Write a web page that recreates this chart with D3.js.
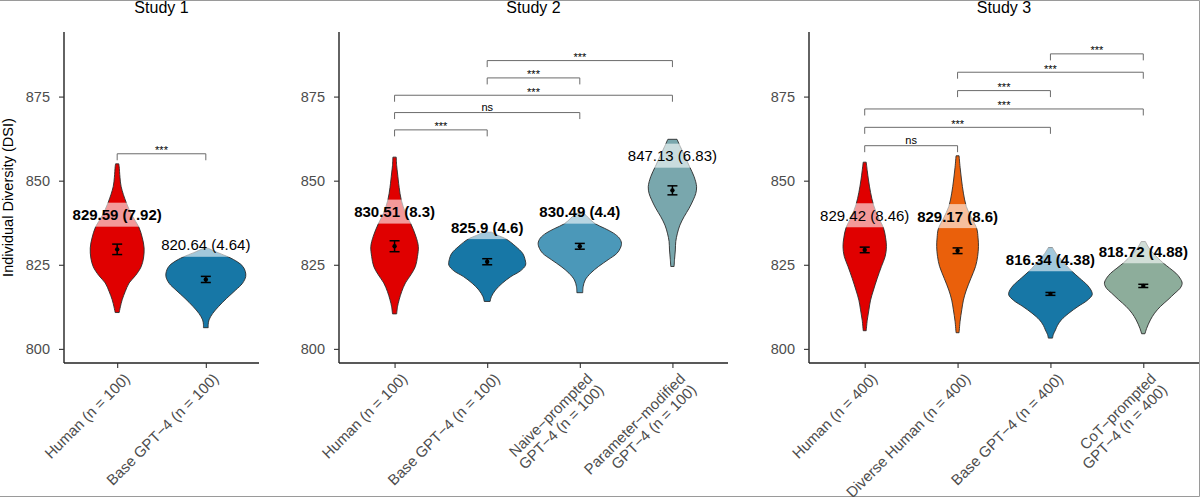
<!DOCTYPE html>
<html lang="en">
<head>
<meta charset="UTF-8">
<title>Individual Diversity</title>
<style>
  body { margin: 0; background: #fff; }
  svg text { font-family: "Liberation Sans", Arial, sans-serif; }
</style>
</head>
<body>
<svg width="1200" height="497" id="svg"></svg>
<script src="https://d3js.org/d3.v7.min.js"></script>
<script>
// ---- data ----
const studyTitles = ["Study 1", "Study 2", "Study 3"];

const groups1 = ["Human (n = 100)", "Base GPT−4 (n = 100)"];
const groups2 = ["Human (n = 100)", "Base GPT−4 (n = 100)", "Naive−prompted\nGPT−4 (n = 100)", "Parameter−modified\nGPT−4 (n = 100)"];
const groups3 = ["Human (n = 400)", "Diverse Human (n = 400)", "Base GPT−4 (n = 400)", "CoT−prompted\nGPT−4 (n = 400)"];

const means1 = [829.59, 820.64];
const means2 = [830.51, 825.9, 830.49, 847.13];
const means3 = [829.42, 829.17, 816.34, 818.72];

const sds1 = [7.92, 4.64];
const sds2 = [8.3, 4.6, 4.4, 6.83];
const sds3 = [8.46, 8.6, 4.38, 4.88];

const nObs1 = [100, 100];
const nObs2 = [100, 100, 100, 100];
const nObs3 = [400, 400, 400, 400];

// violin outlines: [DSI, relative density], read top to bottom
const violins1 = [
  [[855.0, 0.04], [854.2, 0.05], [851, 0.07], [848.2, 0.10], [843.4, 0.23], [839.5, 0.38], [836.3, 0.54], [833, 0.63], [830.0, 0.675], [827, 0.66], [824.4, 0.60], [821.8, 0.46], [819.6, 0.30], [817, 0.2], [814.6, 0.125], [812.5, 0.08], [810.8, 0.05]],
  [[829.9, 0.06], [828.6, 0.3], [827.3, 0.57], [825.8, 0.8], [824.5, 0.93], [823, 0.99], [821.5, 1.0], [819.5, 0.92], [817.5, 0.75], [815, 0.52], [812.6, 0.32], [810.5, 0.17], [808.6, 0.08], [807.3, 0.06], [806.3, 0.06]]
];
const violins2 = [
  [[857.0, 0.04], [854.5, 0.05], [852.3, 0.07], [848, 0.11], [844.3, 0.16], [840.5, 0.26], [837.2, 0.39], [833.5, 0.51], [830.4, 0.57], [827.5, 0.55], [824.5, 0.5], [822, 0.39], [819.6, 0.26], [817, 0.17], [814.6, 0.11], [812.5, 0.07], [810.4, 0.05]],
  [[834.7, 0.1], [833.7, 0.26], [832.7, 0.45], [830.5, 0.68], [828.4, 0.85], [826.5, 0.91], [824.9, 0.92], [823.2, 0.8], [821.5, 0.57], [819.5, 0.36], [817.5, 0.2], [815.5, 0.1], [814.1, 0.07]],
  [[840.3, 0.1], [838.8, 0.22], [837.2, 0.37], [835.8, 0.6], [834.4, 0.81], [832.9, 0.95], [831.4, 1.0], [829.9, 0.97], [828.4, 0.89], [826.5, 0.68], [824.5, 0.45], [822.5, 0.26], [820.5, 0.13], [818.5, 0.08], [816.7, 0.07]],
  [[862.3, 0.11], [860.1, 0.19], [857.2, 0.3], [854.2, 0.41], [851.2, 0.52], [848.2, 0.58], [846.2, 0.56], [844.3, 0.5], [841.8, 0.4], [839.3, 0.28], [836.8, 0.18], [834.4, 0.12], [831.9, 0.08], [829.4, 0.07], [826.5, 0.05], [824.5, 0.04]]
];
const violins3 = [
  [[855.5, 0.036], [853, 0.06], [850.2, 0.09], [846.5, 0.14], [842.8, 0.21], [839.3, 0.32], [835.9, 0.45], [833, 0.5], [830.4, 0.52], [827.5, 0.49], [824.5, 0.40], [821, 0.3], [817.5, 0.21], [814.5, 0.14], [811.6, 0.1], [808.5, 0.06], [805.4, 0.036]],
  [[857.4, 0.036], [854, 0.06], [850.2, 0.095], [846.3, 0.14], [842.3, 0.21], [839, 0.33], [835.7, 0.46], [833, 0.49], [830.4, 0.5], [827.5, 0.48], [824.5, 0.43], [821, 0.32], [817.5, 0.21], [814.5, 0.14], [811.6, 0.1], [808.2, 0.06], [804.8, 0.036]],
  [[830.1, 0.05], [828.3, 0.14], [826.5, 0.26], [824.8, 0.38], [823.0, 0.52], [821, 0.7], [819.0, 0.88], [817.5, 0.97], [816.1, 1.0], [814.4, 0.88], [812.6, 0.66], [810.6, 0.44], [808.6, 0.26], [807, 0.17], [805.6, 0.12], [804.3, 0.07], [803.2, 0.05]],
  [[831.9, 0.05], [830.1, 0.13], [828.4, 0.24], [826.9, 0.36], [825.5, 0.48], [824, 0.63], [822.5, 0.78], [821, 0.88], [819.5, 0.93], [818, 0.88], [816.6, 0.76], [814.6, 0.59], [812.6, 0.41], [810.6, 0.27], [808.6, 0.17], [806.1, 0.08], [804.5, 0.04]]
];

// significance brackets: [from, to, label]
const comps1 = [[0, 1, "***"]];
const comps2 = [[0, 1, "***"], [0, 2, "ns"], [0, 3, "***"], [1, 2, "***"], [1, 3, "***"]];
const comps3 = [[0, 1, "ns"], [0, 2, "***"], [0, 3, "***"], [1, 2, "***"], [1, 3, "***"], [2, 3, "***"]];

const yTicks = [800, 825, 850, 875];

// ---- styles ----
const fills1 = ["#e00000", "#1777a6"];
const fills2 = ["#e00000", "#1777a6", "#4b98b9", "#79a7ad"];
const fills3 = ["#e00000", "#ea600b", "#1777a6", "#8dad9b"];
const boldLabels1 = [true, false];
const boldLabels2 = [true, true, true, false];
const boldLabels3 = [false, true, true, true];

const panels = [
  {groups: groups1, means: means1, sds: sds1, n: nObs1, violins: violins1, comps: comps1, fills: fills1, bold: boldLabels1, left: 64, right: 259, bracketStart: 858.0, bracketStep: 0},
  {groups: groups2, means: means2, sds: sds2, n: nObs2, violins: violins2, comps: comps2, fills: fills2, bold: boldLabels2, left: 339, right: 728, bracketStart: 865.1, bracketStep: 5.15},
  {groups: groups3, means: means3, sds: sds3, n: nObs3, violins: violins3, comps: comps3, fills: fills3, bold: boldLabels3, left: 809, right: 1199, bracketStart: 860.4, bracketStep: 5.46}
];

const plotTop = 32, plotBottom = 363;
const labelOffset = 10.3;

const svg = d3.select("svg#svg");

const yScale = d3.scaleLinear().domain([795.8, 894.2]).range([plotBottom, plotTop]);

// frame
svg.append("path")
  .attr("d", "M0,0.5H1199.5V496.5H0")
  .attr("fill", "none").attr("stroke", "#9a9a9a").attr("stroke-width", 1);

// y title
svg.append("text")
  .attr("transform", `translate(13,${(plotTop + plotBottom) / 2}) rotate(-90)`)
  .attr("text-anchor", "middle")
  .attr("font-size", 14.5)
  .attr("fill", "#000")
  .text("Individual Diversity (DSI)");

panels.forEach((p, pi) => {
  const g = svg.append("g");
  const xScale = d3.scalePoint().domain(p.groups).range([p.left, p.right]).padding(0.6);
  const halfMax = xScale.step() * 0.45;
  const wScale = d3.scaleLinear().domain([0, 1]).range([0, halfMax]);

  // title
  g.append("text")
    .attr("x", (p.left + p.right) / 2).attr("y", 13)
    .attr("text-anchor", "middle").attr("font-size", 16).attr("fill", "#000")
    .text(studyTitles[pi]);

  // axes
  const yAxis = d3.axisLeft(yScale).tickValues(yTicks).tickSize(5).tickPadding(9);
  const ya = g.append("g").attr("transform", `translate(${p.left},0)`).call(yAxis);
  ya.select(".domain").attr("d", `M0,${plotTop}V${plotBottom}`).attr("stroke", "#222").attr("stroke-width", 1.4);
  ya.selectAll(".tick line").attr("stroke", "#333").attr("stroke-width", 1.1);
  ya.selectAll(".tick text").attr("font-size", 14.5).attr("fill", "#4d4d4d").attr("font-family", "Liberation Sans, Arial, sans-serif");

  const xa = g.append("g").attr("transform", `translate(0,${plotBottom})`)
    .call(d3.axisBottom(xScale).tickSize(5).tickFormat(""));
  xa.select(".domain").attr("d", `M${p.left},0H${p.right}`).attr("stroke", "#222").attr("stroke-width", 1.4);
  xa.selectAll(".tick line").attr("stroke", "#333").attr("stroke-width", 1.1);

  // rotated category labels
  p.groups.forEach(name => {
    const t = g.append("text")
      .attr("transform", `translate(${xScale(name) + 6},${plotBottom + 9}) rotate(-45)`)
      .attr("text-anchor", "end")
      .attr("font-size", 15)
      .attr("fill", "#4d4d4d");
    name.split("\n").forEach((line, li) => {
      t.append("tspan").attr("x", 0).attr("dy", li === 0 ? "0.72em" : "1.05em").text(line);
    });
  });

  // violins
  const area = d3.area()
    .y(d => yScale(d[0]))
    .curve(d3.curveCatmullRom);
  p.groups.forEach((name, i) => {
    const cx = xScale(name);
    area.x0(d => cx - wScale(d[1])).x1(d => cx + wScale(d[1]));
    g.append("path")
      .attr("d", area(p.violins[i]))
      .attr("fill", p.fills[i])
      .attr("stroke", "#2b2b2b")
      .attr("stroke-width", 0.9);
  });

  // label boxes + error bars + labels
  p.groups.forEach((name, i) => {
    const cx = xScale(name);
    const ly = yScale(p.means[i] + labelOffset);
    const txt = `${p.means[i]} (${p.sds[i]})`;
    const lbl = g.append("text")
      .attr("x", cx).attr("y", ly)
      .attr("dy", "0.36em")
      .attr("text-anchor", "middle")
      .attr("font-size", 15)
      .attr("font-weight", p.bold[i] ? "bold" : "normal")
      .attr("fill", "#000")
      .text(txt);
    const bb = lbl.node().getBBox();
    g.insert("rect", () => lbl.node())
      .attr("x", bb.x - 4).attr("y", ly - 12)
      .attr("width", bb.width + 8).attr("height", 24)
      .attr("fill", "#fff").attr("fill-opacity", 0.6);

    const ci = 1.96 * p.sds[i] / Math.sqrt(p.n[i]);
    const y0 = yScale(p.means[i] - ci), y1 = yScale(p.means[i] + ci);
    const eb = g.append("g").attr("stroke", "#000").attr("stroke-width", 1.5);
    eb.append("line").attr("x1", cx).attr("x2", cx).attr("y1", y0).attr("y2", y1);
    eb.append("line").attr("x1", cx - 5).attr("x2", cx + 5).attr("y1", y0).attr("y2", y0);
    eb.append("line").attr("x1", cx - 5).attr("x2", cx + 5).attr("y1", y1).attr("y2", y1);
    g.append("circle").attr("cx", cx).attr("cy", yScale(p.means[i])).attr("r", 2.2).attr("fill", "#000");
  });

  // significance brackets
  p.comps.forEach((c, k) => {
    const yb = yScale(p.bracketStart + k * p.bracketStep);
    const xA = xScale(p.groups[c[0]]), xB = xScale(p.groups[c[1]]);
    g.append("path")
      .attr("d", `M${xA},${yb + 6.5}V${yb}H${xB}V${yb + 6.5}`)
      .attr("fill", "none").attr("stroke", "#6b6b6b").attr("stroke-width", 1);
    g.append("text")
      .attr("x", (xA + xB) / 2).attr("y", c[2] === "ns" ? yb - 2 : yb + 0.5)
      .attr("text-anchor", "middle")
      .attr("font-size", 11)
      .attr("fill", "#000")
      .text(c[2]);
  });
});
</script>
</body>
</html>
